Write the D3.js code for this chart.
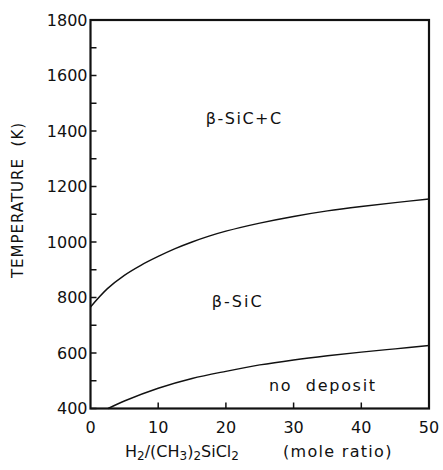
<!DOCTYPE html>
<html>
<head>
<meta charset="utf-8">
<script src="https://cdn.jsdelivr.net/npm/d3@7"></script>
<style>
  body { margin: 0; background: #fff; }
  svg { display: block; }
  text { font-family: "DejaVu Sans", sans-serif; fill: #111; }
</style>
</head>
<body>
<div id="chart"></div>
<script>
// upper boundary: β-SiC / β-SiC+C
const upperRatio = [0, 2.5, 5, 7.5, 10, 12.5, 15, 17.5, 20, 25, 30, 35, 40, 45, 50];
const upperTemp  = [766, 832, 880, 917, 948, 976, 1000, 1021, 1039, 1068, 1092, 1112, 1128, 1142, 1155];

// lower boundary: no deposit / β-SiC
const lowerRatio = [2.6, 5, 10, 15, 20, 25, 30, 35, 40, 45, 50];
const lowerTemp  = [400, 427, 473, 508, 534, 557, 575, 590, 603, 615, 627];

const xTicks = [0, 10, 20, 30, 40, 50];
const yTicks = [400, 600, 800, 1000, 1200, 1400, 1600, 1800];
const yMinorTicks = d3.range(400, 1801, 100);

const regionLabels = [
  { text: "β-SiC+C", ratio: 22.6, temp: 1447, spacing: 1.5 },
  { text: "β-SiC", ratio: 21.6, temp: 787, spacing: 2 },
  { text: "no  deposit", ratio: 34.2, temp: 485, spacing: 1.7 }
];

const W = 443, H = 470;
const svg = d3.select("#chart").append("svg")
    .attr("width", W)
    .attr("height", H);

svg.append("rect").attr("width", W).attr("height", H).attr("fill", "#fff");

const x = d3.scaleLinear().domain([0, 50]).range([90.5, 429]);
const y = d3.scaleLinear().domain([400, 1800]).range([408.5, 20]);

// ticks (inward)
svg.append("g")
    .selectAll("line")
    .data(yMinorTicks)
    .enter().append("line")
    .attr("x1", x(0)).attr("x2", x(0) + 6)
    .attr("y1", d => y(d)).attr("y2", d => y(d))
    .attr("stroke", "#111").attr("stroke-width", 1.5);

svg.append("g")
    .selectAll("line")
    .data(xTicks.slice(1, -1))
    .enter().append("line")
    .attr("x1", d => x(d)).attr("x2", d => x(d))
    .attr("y1", y(400)).attr("y2", y(400) - 6)
    .attr("stroke", "#111").attr("stroke-width", 1.5);

// frame
svg.append("rect")
    .attr("x", x(0)).attr("y", y(1800))
    .attr("width", x(50) - x(0))
    .attr("height", y(400) - y(1800))
    .attr("fill", "none")
    .attr("stroke", "#111")
    .attr("stroke-width", 2.2);

// tick labels
svg.append("g")
    .selectAll("text")
    .data(yTicks)
    .enter().append("text")
    .attr("x", x(0) - 3)
    .attr("y", d => y(d))
    .attr("dy", "0.36em")
    .attr("text-anchor", "end")
    .style("font-size", "16px")
    .text(d => d);

svg.append("g")
    .selectAll("text")
    .data(xTicks)
    .enter().append("text")
    .attr("x", d => x(d))
    .attr("y", 433)
    .attr("text-anchor", "middle")
    .style("font-size", "16px")
    .text(d => d);

// boundary curves
const line = d3.line()
    .x(d => x(d[0]))
    .y(d => y(d[1]))
    .curve(d3.curveCatmullRom);

svg.append("path")
    .datum(upperRatio.map((r, i) => [r, upperTemp[i]]))
    .attr("d", line)
    .attr("fill", "none")
    .attr("stroke", "#111")
    .attr("stroke-width", 1.4);

svg.append("path")
    .datum(lowerRatio.map((r, i) => [r, lowerTemp[i]]))
    .attr("d", line)
    .attr("fill", "none")
    .attr("stroke", "#111")
    .attr("stroke-width", 1.4);

// region labels
svg.append("g")
    .selectAll("text")
    .data(regionLabels)
    .enter().append("text")
    .attr("x", d => x(d.ratio) + d.spacing / 2)
    .attr("y", d => y(d.temp))
    .attr("dy", "0.36em")
    .attr("text-anchor", "middle")
    .attr("xml:space", "preserve")
    .style("font-size", "16px")
    .style("letter-spacing", d => d.spacing + "px")
    .text(d => d.text);

// axis titles
svg.append("text")
    .attr("transform", "translate(23,200) rotate(-90)")
    .attr("text-anchor", "middle")
    .attr("xml:space", "preserve")
    .style("font-size", "15px")
    .style("letter-spacing", "1px")
    .text("TEMPERATURE  (K)");

const xt = svg.append("text")
    .attr("x", 125)
    .attr("y", 457)
    .style("font-size", "16px");
xt.append("tspan").text("H");
xt.append("tspan").attr("dy", 3).style("font-size", "12px").text("2");
xt.append("tspan").attr("dy", -3).text("/(CH");
xt.append("tspan").attr("dy", 3).style("font-size", "12px").text("3");
xt.append("tspan").attr("dy", -3).text(")");
xt.append("tspan").attr("dy", 3).style("font-size", "12px").text("2");
xt.append("tspan").attr("dy", -3).text("SiCl");
xt.append("tspan").attr("dy", 3).style("font-size", "12px").text("2");

svg.append("text")
    .attr("x", 283)
    .attr("y", 457)
    .style("font-size", "16px")
    .style("letter-spacing", "1.3px")
    .text("(mole ratio)");
</script>
</body>
</html>
